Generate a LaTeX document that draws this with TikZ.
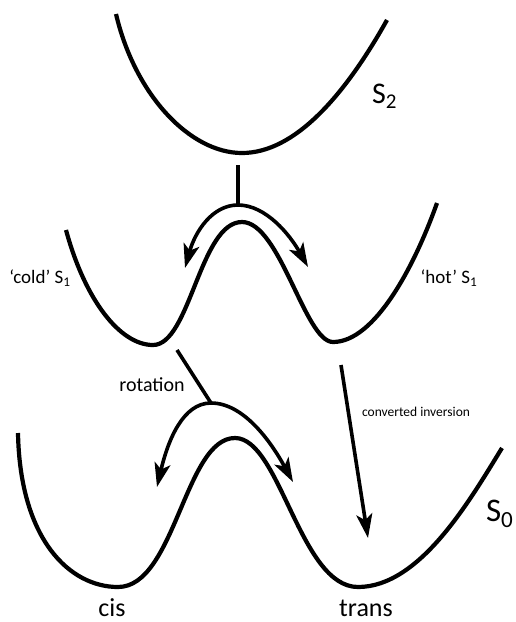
\documentclass[tikz,border=0pt]{standalone}
\usepackage{fontspec}
\setmainfont{Carlito}
\usetikzlibrary{arrows.meta}
\tikzset{
  pes/.style={line width=4.2pt},
  flow/.style={line width=3.6pt, -{Stealth[length=24pt, width=16pt, inset=6pt]}},
  stem/.style={line width=3.6pt},
  lbl/.style={inner sep=0pt, outer sep=0pt}
}
\begin{document}
\begin{tikzpicture}[x=1pt,y=-1pt]
\useasboundingbox (0,0) rectangle (515,622);
\draw[pes] (116,14) .. controls (135,95) and (190,153) .. (242,153) .. controls (295,153) and (345,95) .. (387,20);
\draw[pes] (66,230) .. controls (85,300) and (120,345) .. (153,345) .. controls (190,345) and (200,222) .. (242,222)
  .. controls (280,222) and (305,342) .. (333,342) .. controls (375,342) and (415,265) .. (437,203);
\draw[pes] (18,433) .. controls (20,540) and (70,587) .. (118,587) .. controls (175,587) and (185,438) .. (235,438)
  .. controls (280,438) and (300,587) .. (358,587) .. controls (420,587) and (470,500) .. (502,448);
\node[lbl, anchor=base west, font=\fontsize{30}{30}\selectfont] (s2lbl) at (372,103) {S\textsubscript{2}};
\node[lbl, font=\fontsize{19}{19}\selectfont] (coldlbl) at (40,278) {‘cold’ S\textsubscript{1}};
\node[lbl, font=\fontsize{19}{19}\selectfont] (hotlbl) at (449,278) {‘hot’ S\textsubscript{1}};
\node[lbl, font=\fontsize{20}{20}\selectfont] (rotlbl) at (152,385) {rotation};
\node[lbl, font=\fontsize{13.5}{13.5}\selectfont] (convlbl) at (416,412) {converted inversion};
\node[lbl, anchor=base west, font=\fontsize{33}{33}\selectfont] (s0lbl) at (486,521) {S\textsubscript{0}};
\node[lbl, anchor=base, font=\fontsize{26}{26}\selectfont] (cislbl) at (112,616) {cis};
\node[lbl, anchor=base, font=\fontsize{26}{26}\selectfont] (translbl) at (366,616) {trans};
\coordinate (s2out) at (238,165);
\coordinate (s2split) at (238,205);
\coordinate (coldend) at (185,268);
\coordinate (hotend) at (308,267);
\coordinate (coldout) at (177,350);
\coordinate (rotsplit) at (211,403);
\coordinate (cisend) at (157,487);
\coordinate (transend) at (293,482);
\coordinate (hotout) at (341,365);
\coordinate (invend) at (368,538);
\draw[stem] (s2out) -- (s2split);
\draw[flow] (s2split) .. controls (212,205) and (195,232) .. (coldend);
\draw[flow] (s2split) .. controls (266,205) and (290,235) .. (hotend);
\draw[stem] (coldout) -- (rotsplit);
\draw[flow] (rotsplit) .. controls (183,403) and (168,440) .. (cisend);
\draw[flow] (rotsplit) .. controls (243,403) and (270,440) .. (transend);
\draw[flow] (hotout) -- (invend);
\end{tikzpicture}
\end{document}
